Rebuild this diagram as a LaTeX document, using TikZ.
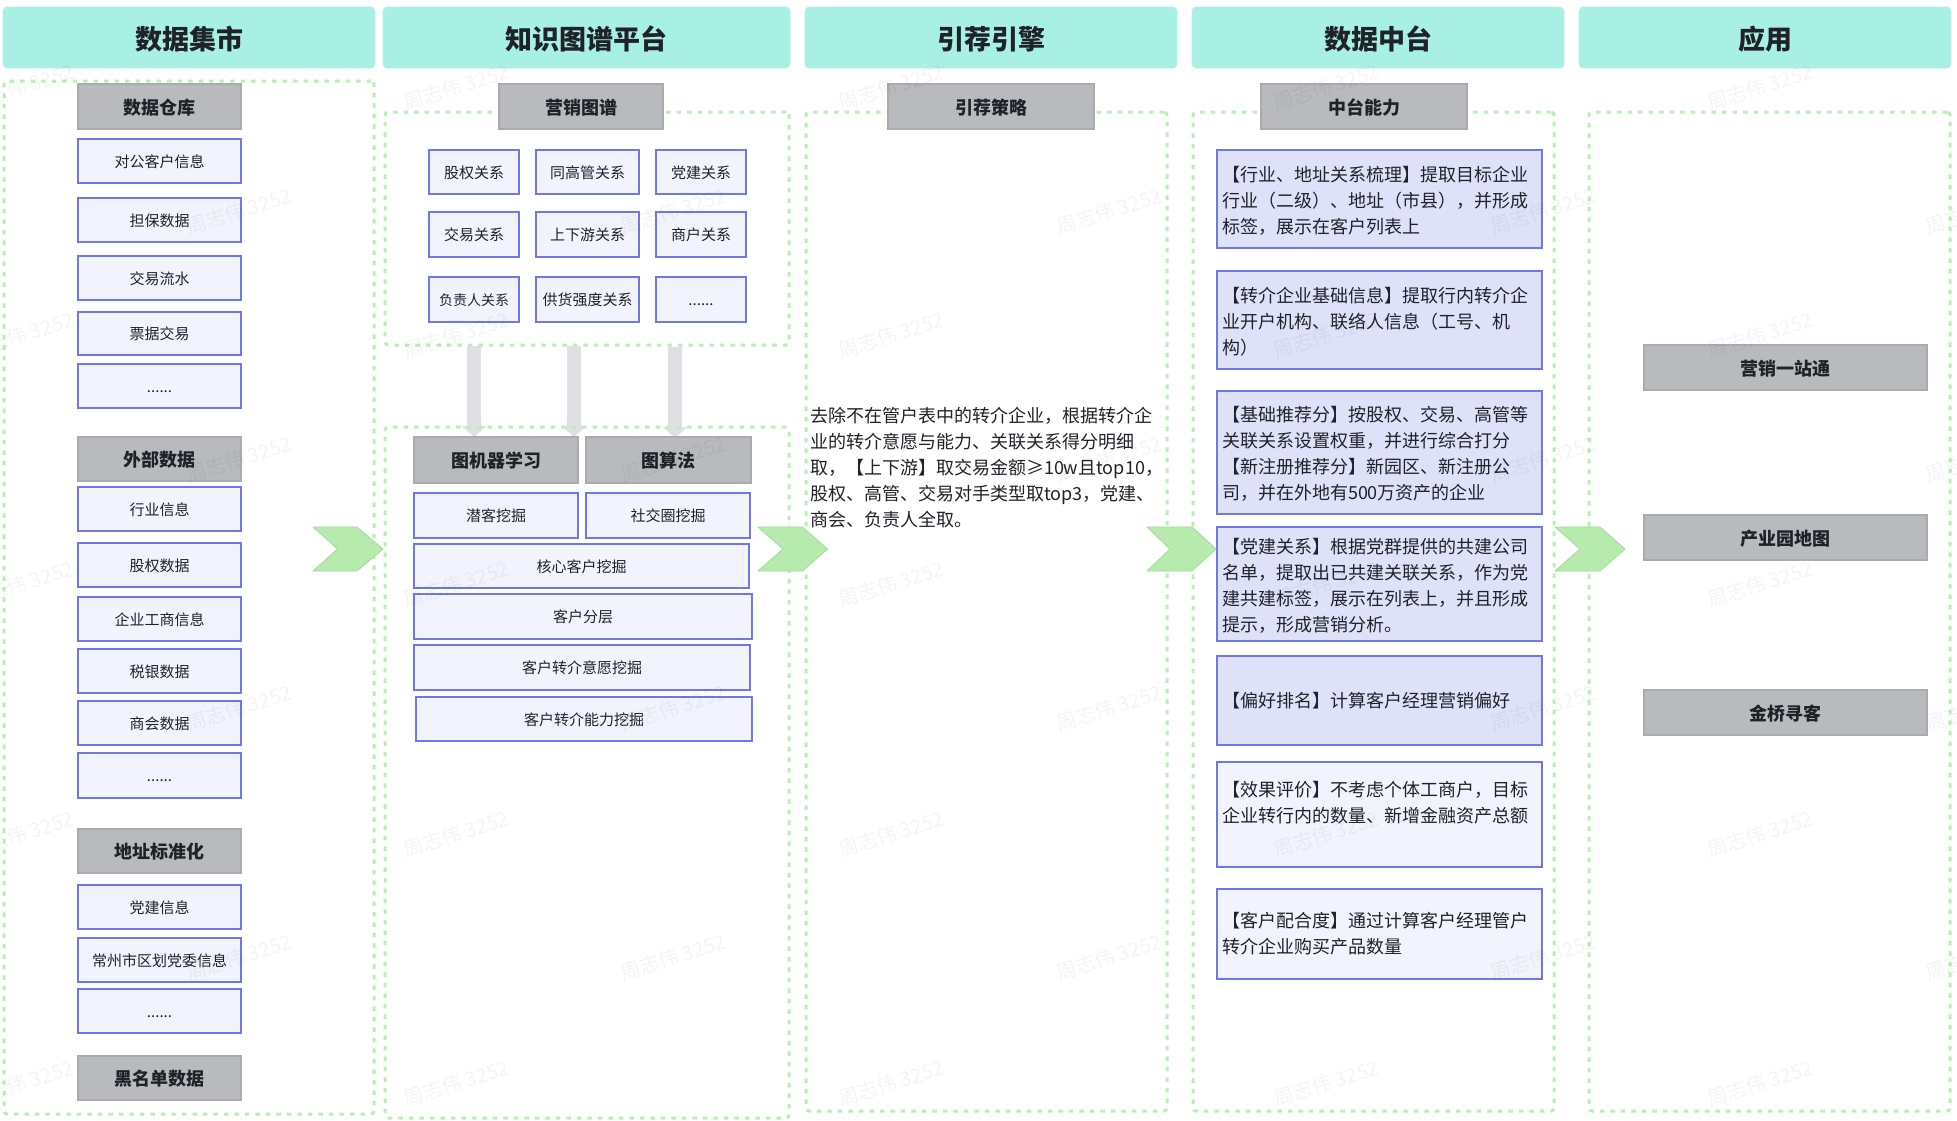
\documentclass[tikz,border=0pt]{standalone}
\usepackage{fontspec}
\setmainfont{Noto Sans CJK SC}
\usetikzlibrary{arrows.meta}
\definecolor{ink}{HTML}{1F2329}
\definecolor{headfill}{HTML}{A8F0E4}
\definecolor{greyfill}{HTML}{B8BABD}
\definecolor{greyline}{HTML}{A9ABAE}
\definecolor{lightfill}{HTML}{F2F3FD}
\definecolor{deepfill}{HTML}{DFE1F9}
\definecolor{blueline}{HTML}{7077EE}
\definecolor{dashgreen}{HTML}{B9F0B5}
\definecolor{chevfill}{HTML}{B7EBAD}
\definecolor{chevline}{HTML}{A2DC99}
\definecolor{flowgrey}{HTML}{DEE0E3}
\tikzset{
  basebox/.style={inner sep=0pt,outer sep=0pt,align=center,text=ink},
  headbox/.style={basebox,fill=headfill,draw=headfill!85!white,line width=0.6pt,rounded corners=4pt,
    text height=26pt,text depth=2.4pt,font=\fontsize{27}{31}\selectfont\bfseries},
  greybox/.style={basebox,fill=greyfill,draw=greyline,line width=1.2pt,
    text height=17pt,text depth=1.4pt,font=\fontsize{18}{22}\selectfont\bfseries},
  itembox/.style={basebox,fill=lightfill,draw=blueline,line width=1.6pt,
    text height=14.5pt,text depth=2.5pt,font=\fontsize{15}{18}\selectfont},
  smallitem/.style={itembox,font=\fontsize{14}{18}\selectfont},
  abilitybox/.style={basebox,fill=deepfill,draw=blueline,line width=1.6pt,
    font=\fontsize{18}{26}\selectfont,align=left,text width=315pt},
  paleability/.style={abilitybox,fill=lightfill},
  zone/.style={basebox,draw=dashgreen,line width=3pt,dash pattern=on 4.5pt off 6pt,rounded corners=3pt},
  plain/.style={inner sep=0pt,outer sep=0pt,text=ink,align=left,font=\fontsize{18}{26}\selectfont},
  chevshape/.style={fill=chevfill,draw=chevline,line width=0.8pt,line join=round},
  flowarrow/.style={draw=flowgrey,line width=14pt,-{Triangle[width=24pt,length=11pt]}},
  wmark/.style={text=black,text opacity=0.045,rotate=17,inner sep=0pt,xshift=-4pt,font=\fontsize{20}{24}\selectfont}
}
\newcommand\bx[7]{%
  \pgfmathsetmacro\bxw{#5-#3}\pgfmathsetmacro\bxh{#6-#4}%
  \node[#2,minimum width=\bxw pt,minimum height=\bxh pt] (#1) at ({(#3+#5)/2},{(#4+#6)/2}) {#7};}
\newcommand\chev[4]{% left notch top-right tip
  \draw[chevshape] (#1,527) -- (#3,527) -- (#4,549) -- (#3,571) -- (#1,571) -- (#2,549) -- cycle;}
\newcommand\lowr{\rule{0pt}{18.6pt}}
\begin{document}
\begin{tikzpicture}[x=1pt,y=-1pt]
\useasboundingbox (0,0) rectangle (1957,1120);
\clip (0,0) rectangle (1957,1120);
\fill[white] (0,0) rectangle (1957,1120);
% column headers
\bx{h1}{headbox}{3}{7}{375}{68}{数据集市}
\bx{h2}{headbox}{383}{7}{790}{68}{知识图谱平台}
\bx{h3}{headbox}{805}{7}{1177}{68}{引荐引擎}
\bx{h4}{headbox}{1192}{7}{1564}{68}{数据中台}
\bx{h5}{headbox}{1579}{7}{1951}{68}{应用}
% grey flow arrows
\coordinate (a1s) at (474,346); \coordinate (a1e) at (474,437);
\coordinate (a2s) at (574,346); \coordinate (a2e) at (574,437);
\coordinate (a3s) at (675,347); \coordinate (a3e) at (675,438);
\draw[flowarrow] (a1s) -- (a1e);
\draw[flowarrow] (a2s) -- (a2e);
\draw[flowarrow] (a3s) -- (a3e);
% zones
\bx{z1}{zone}{4}{81}{374}{1114}{}
\bx{z2a}{zone}{385}{112}{789}{345}{}
\bx{z2b}{zone}{385}{427}{789}{1118}{}
\bx{z3}{zone}{806}{112}{1167}{1111}{}
\bx{z4}{zone}{1193}{112}{1554}{1111}{}
\bx{z5}{zone}{1589}{112}{1950}{1111}{}
% column 1
\bx{c1a}{greybox}{78}{84}{241}{129}{数据仓库}
\bx{c1b}{itembox}{78}{139}{241}{183}{对公客户信息}
\bx{c1c}{itembox}{78}{198}{241}{242}{担保数据}
\bx{c1d}{itembox}{78}{256}{241}{300}{交易流水}
\bx{c1e}{itembox}{78}{312}{241}{355}{票据交易}
\bx{c1f}{itembox}{78}{364}{241}{408}{......}
\bx{c1g}{greybox}{78}{437}{241}{481}{外部数据}
\bx{c1h}{itembox}{78}{487}{241}{531}{行业信息}
\bx{c1i}{itembox}{78}{543}{241}{587}{股权数据}
\bx{c1j}{itembox}{78}{597}{241}{641}{企业工商信息}
\bx{c1k}{itembox}{78}{649}{241}{693}{税银数据}
\bx{c1l}{itembox}{78}{701}{241}{745}{商会数据}
\bx{c1m}{itembox}{78}{753}{241}{798}{......}
\bx{c1n}{greybox}{78}{829}{241}{873}{地址标准化}
\bx{c1o}{itembox}{78}{885}{241}{929}{党建信息}
\bx{c1p}{itembox}{78}{938}{241}{982}{常州市区划党委信息}
\bx{c1q}{itembox}{78}{989}{241}{1033}{......}
\bx{c1r}{greybox}{78}{1056}{241}{1100}{黑名单数据}
% column 2 upper
\bx{c2a}{greybox}{499}{84}{663}{129}{营销图谱}
\bx{g11}{itembox}{429}{150}{519}{194}{股权关系}
\bx{g12}{itembox}{536}{150}{639}{194}{同高管关系}
\bx{g13}{itembox}{656}{150}{746}{194}{党建关系}
\bx{g21}{itembox}{429}{212}{519}{257}{交易关系}
\bx{g22}{itembox}{536}{212}{639}{257}{上下游关系}
\bx{g23}{itembox}{656}{212}{746}{257}{商户关系}
\bx{g31}{smallitem}{429}{277}{519}{322}{负责人关系}
\bx{g32}{itembox}{536}{277}{639}{322}{供货强度关系}
\bx{g33}{itembox}{656}{277}{746}{322}{......}
% column 2 lower
\bx{m1}{greybox}{414}{437}{578}{483}{图机器学习}
\bx{m2}{greybox}{586}{437}{751}{483}{图算法}
\bx{m3}{itembox}{414}{493}{578}{538}{潜客挖掘}
\bx{m4}{itembox}{586}{493}{750}{538}{社交圈挖掘}
\bx{m5}{itembox}{414}{544}{749}{588}{核心客户挖掘}
\bx{m6}{itembox}{414}{594}{752}{639}{客户分层}
\bx{m7}{itembox}{414}{645}{750}{690}{客户转介意愿挖掘}
\bx{m8}{itembox}{416}{697}{752}{741}{客户转介能力挖掘}
% column 3
\bx{c3a}{greybox}{888}{84}{1094}{129}{引荐策略}
\node[plain,anchor=west] (c3t) at (810,468) {去除不在管户表中的转介企业，根据转介企\\业的转介意愿与能力、关联关系得分明细\\取，【上下游】取交易金额≥10w且top10，\\股权、高管、交易对手类型取top3，党建、\\商会、负责人全取。};
% column 4
\bx{c4a}{greybox}{1261}{84}{1467}{129}{中台能力}
\bx{f1}{abilitybox}{1217}{150}{1542}{248}{\lowr【行业、地址关系梳理】提取目标企业\\行业（二级）、地址（市县），并形成\\标签，展示在客户列表上}
\bx{f2}{abilitybox}{1217}{271}{1542}{369}{\lowr【转介企业基础信息】提取行内转介企\\业开户机构、联络人信息（工号、机\\构）}
\bx{f3}{abilitybox}{1217}{391}{1542}{514}{\lowr【基础推荐分】按股权、交易、高管等\\关联关系设置权重，并进行综合打分\\【新注册推荐分】新园区、新注册公\\司，并在外地有500万资产的企业}
\bx{f4}{abilitybox}{1217}{527}{1542}{641}{\lowr【党建关系】根据党群提供的共建公司\\名单，提取出已共建关联关系，作为党\\建共建标签，展示在列表上，并且形成\\提示，形成营销分析。}
\bx{f5}{abilitybox}{1217}{656}{1542}{745}{【偏好排名】计算客户经理营销偏好}
\bx{f6}{paleability}{1217}{762}{1542}{867}{【效果评价】不考虑个体工商户，目标\\企业转行内的数量、新增金融资产总额\\\mbox{}}
\bx{f7}{paleability}{1217}{889}{1542}{979}{【客户配合度】通过计算客户经理管户\\转介企业购买产品数量}
% column 5
\bx{c5a}{greybox}{1644}{345}{1927}{390}{营销一站通}
\bx{c5b}{greybox}{1644}{515}{1927}{560}{产业园地图}
\bx{c5c}{greybox}{1644}{690}{1927}{735}{金桥寻客}
% chevrons
\chev{313}{337.5}{357}{383}
\chev{758}{783}{802.5}{827.5}
\chev{1147}{1170}{1192}{1216}
\chev{1555}{1580}{1600}{1625}
% watermark
\foreach \wx/\wy [count=\wi] in {25/86,25/334,25/583,25/833,25/1082,
  243/210,243/458,243/707,243/956,
  460/86,460/334,460/583,460/833,460/1082,
  677/210,677/458,677/707,677/956,
  895/86,895/334,895/583,895/833,895/1082,
  1113/210,1113/458,1113/707,1113/956,
  1330/86,1330/334,1330/583,1330/833,1330/1082,
  1547/210,1547/458,1547/707,1547/956,
  1764/86,1764/334,1764/583,1764/833,1764/1082,
  1982/210,1982/458,1982/707,1982/956}
  \node[wmark] (w\wi) at (\wx,\wy) {周志伟 3252};
\end{tikzpicture}
\end{document}
